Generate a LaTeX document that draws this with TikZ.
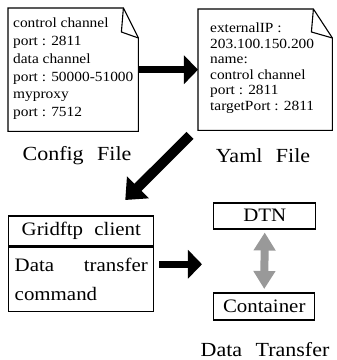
\documentclass[tikz,border=0pt]{standalone}
\usepackage{fontspec}
\setmainfont{Liberation Serif}[FakeStretch=1.1]
\usetikzlibrary{arrows.meta}
\begin{document}
\begin{tikzpicture}[x=1pt,y=-1pt,
  noteline/.style={line width=1.1pt, line join=miter},
  notetext/.style={anchor=north west, inner sep=0pt, align=left},
  notearea/.style={inner sep=0pt, anchor=north west},
  box/.style={draw, line width=1.5pt, inner sep=0pt},
  boxfont/.style={font=\fontsize{19}{29}\selectfont},
  lbl/.style={inner sep=0pt, font=\fontsize{20}{24}\selectfont},
  bigarrow/.style={line width=7pt, -{Triangle[width=28pt,length=14pt]}},
  diagarrow/.style={line width=10pt, -{Triangle[width=30pt,length=18pt]}},
  grayarrow/.style={black!40, line width=8pt, {Triangle[width=21pt,length=18pt]}-{Triangle[width=21pt,length=18pt]}}
]
\useasboundingbox (0,0) rectangle (337,360);

% Config note
\node[notearea, minimum width=130pt, minimum height=123pt] (cfg) at (8,8) {};
\draw[noteline] (cfg.north west) -- ([xshift=-15pt]cfg.north east)
  -- ([yshift=-30pt]cfg.north east) -- (cfg.south east) -- (cfg.south west) -- cycle;
\draw[noteline] ([xshift=-15pt]cfg.north east) -- ([xshift=-17pt,yshift=-24pt]cfg.north east)
  -- ([yshift=-30pt]cfg.north east);
\node[notetext, font=\fontsize{14}{17.7}\selectfont] (cfgtxt) at (13,18)
  {control channel\\port : 2811\\data channel\\port : 50000-51000\\myproxy\\port : 7512};
\node[lbl] (cfglbl) at (77,156) {Config\hspace{8pt} File};

% Yaml note
\node[notearea, minimum width=134pt, minimum height=121pt] (yaml) at (198,9) {};
\draw[noteline] (yaml.north west) -- ([xshift=-19pt]yaml.north east)
  -- ([yshift=-29pt]yaml.north east) -- (yaml.south east) -- (yaml.south west) -- cycle;
\draw[noteline] ([xshift=-19pt]yaml.north east) -- ([xshift=-21pt,yshift=-23pt]yaml.north east)
  -- ([yshift=-29pt]yaml.north east);
\node[notetext, font=\fontsize{14}{15.5}\selectfont] (yamltxt) at (210,23)
  {externalIP :\\203.100.150.200\\name:\\control channel\\port : 2811\\targetPort : 2811};
\node[lbl] (yamllbl) at (263,156) {Yaml\hspace{8pt} File};

% Gridftp client
\node[box, boxfont, minimum width=145pt, minimum height=30pt, anchor=north west] (gtitle) at (8,215)
  {Gridftp\hspace{6pt} client};
\node[box, boxfont, minimum width=145pt, minimum height=64pt, anchor=north, text width=133pt, align=left] (gbody)
  at (gtitle.south) {Data\hfill transfer\\command};

% Data transfer
\node[box, boxfont, minimum width=102pt, minimum height=26pt, anchor=north west] (dtn) at (213,202) {DTN};
\node[box, boxfont, minimum width=101pt, minimum height=27pt, anchor=north west] (cont) at (213,292) {Container};
\node[lbl, anchor=base] (dtlbl) at (265,356) {Data\hspace{8pt} Transfer};

% Arrows
\draw[bigarrow] (cfg.east) -- (yaml.west);
\draw[diagarrow] ([shift={(-8pt,-5pt)}]yaml.south west) -- ([shift={(44pt,15pt)}]gtitle.north);
\draw[bigarrow, shorten <=5pt, shorten >=11pt] ([yshift=15pt]gbody.east) -- ([yshift=15pt]gbody.east -| dtn.west);
\draw[grayarrow, shorten <=3pt, shorten >=3pt] (dtn.south) -- (cont.north);
\end{tikzpicture}
\end{document}
